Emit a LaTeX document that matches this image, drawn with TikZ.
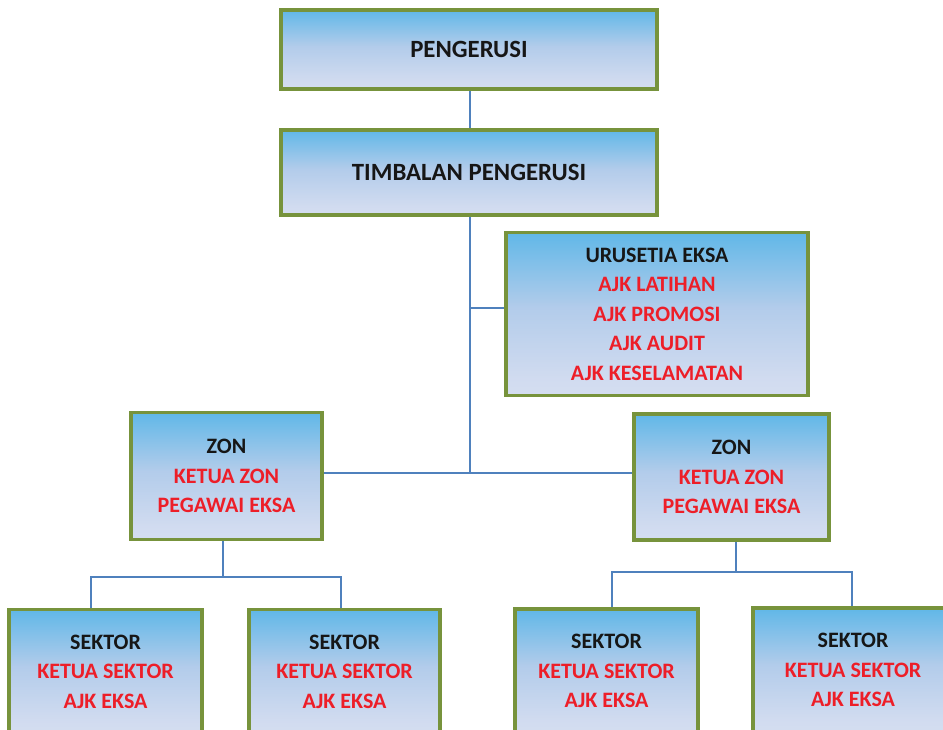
\documentclass[tikz,border=0pt]{standalone}
\usepackage{fontspec}
\setmainfont{Carlito}
\definecolor{boxgreen}{RGB}{119,147,60}
\definecolor{linkblue}{RGB}{79,129,189}
\definecolor{headred}{RGB}{237,30,40}
\definecolor{ink}{RGB}{22,22,22}
% box fill: pale at the bottom, strong sky blue at the top
\pgfdeclareverticalshading{boxshade}{100bp}{rgb(0bp)=(0.89,0.92,0.96); rgb(30bp)=(0.82,0.86,0.94); rgb(52bp)=(0.70,0.80,0.92); rgb(72bp)=(0.42,0.73,0.91); rgb(88bp)=(0.18,0.67,0.89); rgb(100bp)=(0.10,0.65,0.89)}
\newcommand\redline[1]{{\color{headred}\bfseries #1}}
\begin{document}
\begin{tikzpicture}[x=1pt,y=-1pt,
  box/.style={draw=boxgreen, line width=3.5pt, shade, shading=boxshade, rectangle,
    align=center, inner sep=0pt, text=ink, font=\fontsize{22}{29.5}\selectfont\bfseries},
  bigtext/.style={font=\fontsize{24.8}{30}\selectfont\bfseries},
  link/.style={draw=linkblue, line width=2.3pt}]
\fill[white] (0,0) rectangle (943,730);
\useasboundingbox (0,0) rectangle (943,730);
\clip (0,0) rectangle (943,730);

% top of the chart
\node[box, bigtext, minimum width=376pt, minimum height=79pt] (peng) at (469,49.5) {PENGERUSI};
\node[box, bigtext, minimum width=376pt, minimum height=85pt] (timb) at (469,172.5) {TIMBALAN PENGERUSI};
\node[box, minimum width=302pt, minimum height=163pt] (uru) at (657,314) {URUSETIA EKSA\\
  \redline{AJK LATIHAN}\\ \redline{AJK PROMOSI}\\ \redline{AJK AUDIT}\\ \redline{AJK KESELAMATAN}};

% zones
\node[box, minimum width=191pt, minimum height=127pt] (zonL) at (226.5,476) {ZON\\
  \redline{KETUA ZON}\\ \redline{PEGAWAI EKSA}};
\node[box, minimum width=195pt, minimum height=126pt] (zonR) at (731.5,477) {ZON\\
  \redline{KETUA ZON}\\ \redline{PEGAWAI EKSA}};

% sectors
\node[box, minimum width=193pt, minimum height=124pt] (s1) at (105.5,671.5) {SEKTOR\\
  \redline{KETUA SEKTOR}\\ \redline{AJK EKSA}};
\node[box, minimum width=191pt, minimum height=124pt] (s2) at (344.5,671.5) {SEKTOR\\
  \redline{KETUA SEKTOR}\\ \redline{AJK EKSA}};
\node[box, minimum width=183pt, minimum height=124pt] (s3) at (606.5,671) {SEKTOR\\
  \redline{KETUA SEKTOR}\\ \redline{AJK EKSA}};
\node[box, minimum width=200pt, minimum height=124pt] (s4) at (853,670) {SEKTOR\\
  \redline{KETUA SEKTOR}\\ \redline{AJK EKSA}};

% junction points of the connectors
\coordinate (j1) at (470,308);
\coordinate (j2) at (470,473);
\coordinate (zl) at (223,577);
\coordinate (zlA) at (91,577);
\coordinate (zlB) at (341,577);
\coordinate (zr) at (736,572);
\coordinate (zrA) at (612,572);
\coordinate (zrB) at (852,572);

% connectors
\draw[link] (peng.south -| j1) -- (timb.north -| j1);
\draw[link] (timb.south -| j2) -- (j2);
\draw[link] (j1) -- (j1 -| uru.west);
\draw[link] (zonL.east |- j2) -- (zonR.west |- j2);
\draw[link] (zonL.south -| zl) -- (zl);
\draw[link] (zlA |- s1.north) -- (zlA) -- (zlB) -- (zlB |- s2.north);
\draw[link] (zonR.south -| zr) -- (zr);
\draw[link] (zrA |- s3.north) -- (zrA) -- (zrB) -- (zrB |- s4.north);
\end{tikzpicture}
\end{document}
